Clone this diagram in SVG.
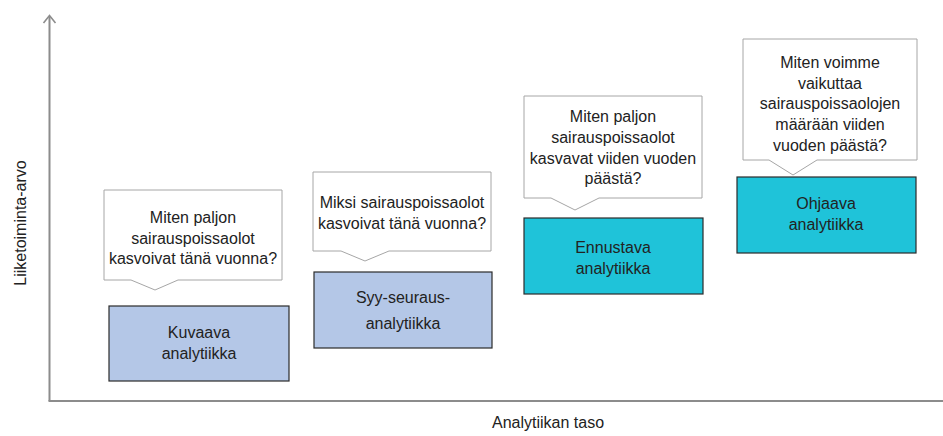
<svg xmlns="http://www.w3.org/2000/svg" width="943" height="436" viewBox="0 0 943 436">
  <style>
    text { font-family: "Liberation Sans", Arial, sans-serif; font-size: 16px; fill: #222; text-anchor: middle; }
    .axis { stroke: #8c8c8c; stroke-width: 2; fill: none; }
    .callout { fill: #fff; stroke: #a6a6a6; stroke-width: 1; }
    .light { fill: #b4c7e7; stroke: #2b2b2b; stroke-width: 1.2; }
    .teal { fill: #1fc3d9; stroke: #2b2b2b; stroke-width: 1.2; }
  </style>
  <rect width="943" height="436" fill="#fff"/>

  <!-- axes -->
  <g id="axes">
    <path class="axis" d="M49.5,401 L49.5,16"/>
    <path d="M43.5,23 L49.5,15.5 L55.5,23" fill="none" stroke="#8c8c8c" stroke-width="1.6"/>
    <path class="axis" d="M48.5,401 L943,401"/>
    <text x="20" y="223" transform="rotate(-90 20 223)" dy="6" font-size="18">Liiketoiminta-arvo</text>
    <text x="548" y="428" font-size="18">Analytiikan taso</text>
  </g>

  <!-- callout bubbles -->
  <g id="connectors">
    <path class="callout" d="M104,190 H282 V280 H178 L155,290 L131,280 H104 Z"/>
    <path class="callout" d="M313,172 H491 V251 H389 L365,261 L341,251 H313 Z"/>
    <path class="callout" d="M524,96 H702 V198 H599 L575,210 L551,198 H524 Z"/>
    <path class="callout" d="M743,39 H917 V160 H817 L793,175 L769,160 H743 Z"/>
  </g>

  <g id="q1">
    <text x="193" y="223">Miten paljon</text>
    <text x="193" y="244">sairauspoissaolot</text>
    <text x="193" y="264">kasvoivat tänä vuonna?</text>
  </g>
  <g id="q2">
    <text x="402" y="208">Miksi sairauspoissaolot</text>
    <text x="402" y="229">kasvoivat tänä vuonna?</text>
  </g>
  <g id="q3">
    <text x="613" y="122">Miten paljon</text>
    <text x="613" y="143">sairauspoissaolot</text>
    <text x="613" y="164">kasvavat viiden vuoden</text>
    <text x="613" y="184">päästä?</text>
  </g>
  <g id="q4">
    <text x="830" y="68">Miten voimme</text>
    <text x="830" y="89">vaikuttaa</text>
    <text x="830" y="109">sairauspoissaolojen</text>
    <text x="830" y="130">määrään viiden</text>
    <text x="830" y="151">vuoden päästä?</text>
  </g>

  <!-- analytics levels -->
  <g id="kuvaava">
    <rect class="light" x="109" y="306" width="180" height="75"/>
    <text x="199" y="338">Kuvaava</text>
    <text x="199" y="359">analytiikka</text>
  </g>
  <g id="syy-seuraus">
    <rect class="light" x="314" y="272" width="178" height="76"/>
    <text x="403" y="303">Syy-seuraus-</text>
    <text x="403" y="329">analytiikka</text>
  </g>
  <g id="ennustava">
    <rect class="teal" x="524" y="218" width="179" height="76"/>
    <text x="613" y="253">Ennustava</text>
    <text x="613" y="274">analytiikka</text>
  </g>
  <g id="ohjaava">
    <rect class="teal" x="737" y="177" width="179" height="76"/>
    <text x="826" y="209">Ohjaava</text>
    <text x="826" y="230">analytiikka</text>
  </g>
</svg>
